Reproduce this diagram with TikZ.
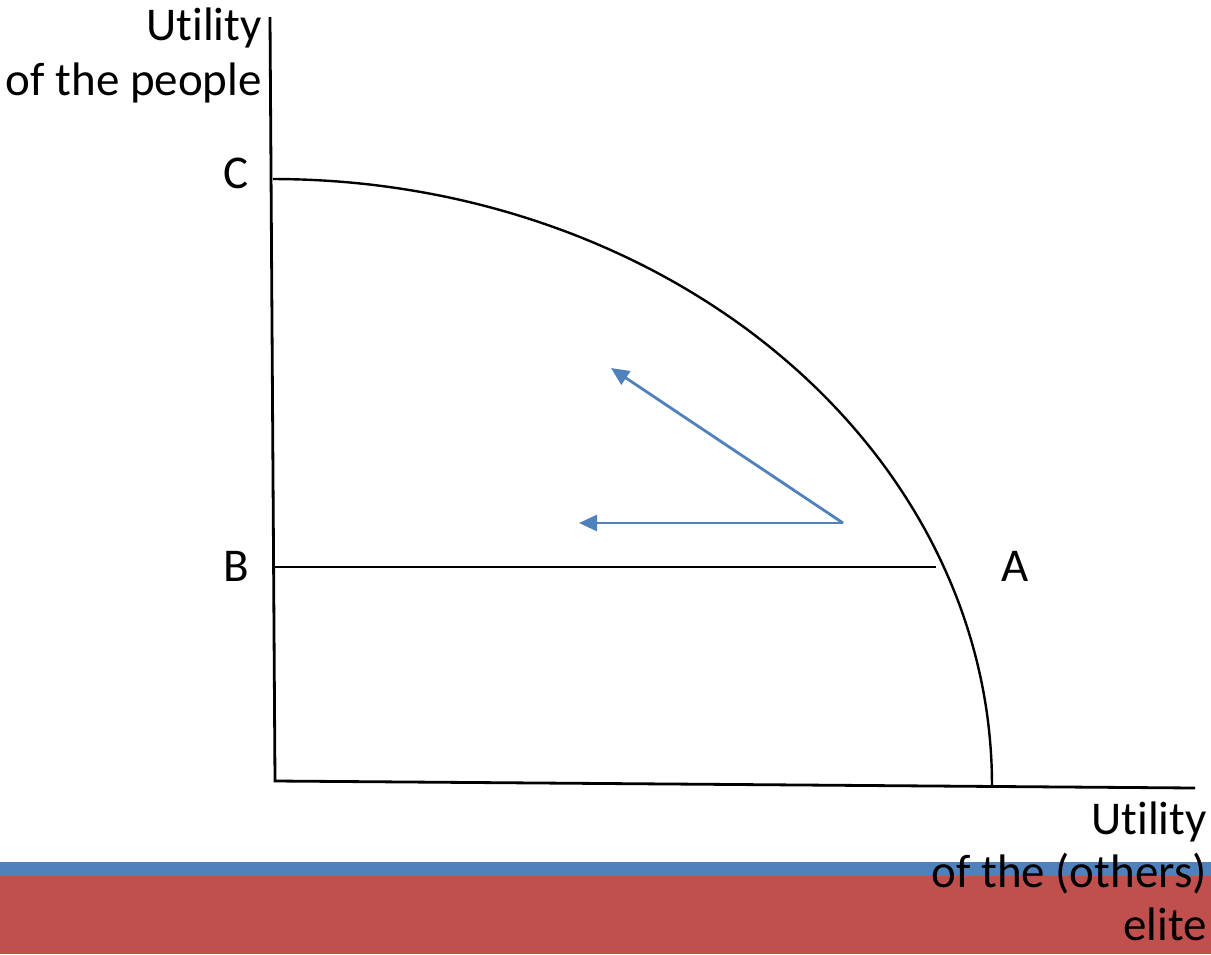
\documentclass[tikz,border=0pt]{standalone}
\usepackage{fontspec}
\setmainfont{Carlito}[Ligatures=NoCommon]
\usetikzlibrary{arrows.meta,positioning}
\definecolor{myblue}{RGB}{79,129,189}
\definecolor{myred}{RGB}{192,80,77}

\begin{document}
\begin{tikzpicture}[x=1pt,y=-1pt,
    axis/.style={line width=2.8pt,black},
    lbl/.style={font=\fontsize{47}{55}\selectfont,inner sep=0pt},
    move/.style={line width=2.8pt,myblue,-{Triangle[length=18pt,width=16pt]}}]
  \useasboundingbox (0,0) rectangle (1211,954);
  % band at the bottom
  \fill[myred] (0,876) rectangle (1211,954);
  \fill[myblue] (0,862) rectangle (1211,876);
  % axes
  \coordinate (ytop) at (270,17);
  \coordinate (o) at (275,781);
  \coordinate (xend) at (1195,788);
  \draw[axis] (ytop) -- (o) -- (xend);
  \node[lbl,align=right,anchor=north east] (ylab) at (262,8) {Utility\\of the people};
  \node[lbl,align=right,anchor=north east,font=\fontsize{47}{53}\selectfont] (xlab) at (1207,802) {Utility\\of the (others)\\elite};
  % frontier
  \draw[axis,line width=2.4pt] plot[domain=90:0,samples=80,smooth] ({273+719*cos(\x)},{785-606*sin(\x)});
  \node[lbl] (c) at (236,173) {C};
  \node[lbl] (b) at (236,566) {B};
  \node[lbl] (a) at (1015,566) {A};
  \coordinate (bstart) at (274,567);
  \coordinate (bend) at (936,567);
  \draw[axis,line width=2.4pt] (bstart) -- (bend);
  % moves
  \coordinate (s) at (843,523);
  \coordinate (e1) at (611,368);
  \coordinate (e2) at (579,523);
  \draw[move] (s) -- (e1);
  \draw[move] (s) -- (e2);
\end{tikzpicture}
\end{document}
